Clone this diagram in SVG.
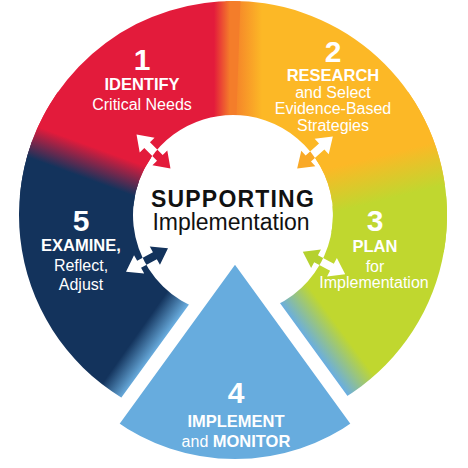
<svg xmlns="http://www.w3.org/2000/svg" width="468" height="468" viewBox="0 0 468 468">
<style>
.t{font-family:"Liberation Sans",Arial,Helvetica,sans-serif;fill:#fff;text-anchor:middle}
.num{font-size:30px;font-weight:bold}
.b{font-size:16.5px;font-weight:bold}
.r{font-size:16px}
.c{font-family:"Liberation Sans",Arial,Helvetica,sans-serif;fill:#111;text-anchor:middle}
</style>
<defs>
<linearGradient id="gA" gradientUnits="userSpaceOnUse" x1="166.8" y1="335.4" x2="146.4" y2="321"><stop offset="0" stop-color="#6aaee0"/><stop offset="1" stop-color="#13335c"/></linearGradient>
<linearGradient id="gB" gradientUnits="userSpaceOnUse" x1="214" y1="0" x2="230" y2="0"><stop offset="0" stop-color="#e31b3b"/><stop offset="1" stop-color="#f47d2a"/></linearGradient>
<linearGradient id="gC" gradientUnits="userSpaceOnUse" x1="80" y1="176.3" x2="91" y2="146.3"><stop offset="0" stop-color="#13335c"/><stop offset="1" stop-color="#e31b3b"/></linearGradient>
<linearGradient id="gD" gradientUnits="userSpaceOnUse" x1="232" y1="0" x2="262" y2="0"><stop offset="0" stop-color="#f47d2a"/><stop offset="1" stop-color="#fcb826"/></linearGradient>
<linearGradient id="gE" gradientUnits="userSpaceOnUse" x1="380" y1="155.7" x2="390.6" y2="198.3"><stop offset="0" stop-color="#fcb826"/><stop offset="1" stop-color="#c0d72f"/></linearGradient>
<linearGradient id="gF" gradientUnits="userSpaceOnUse" x1="303.6" y1="335.3" x2="330.2" y2="315.7"><stop offset="0" stop-color="#6aaee0"/><stop offset="1" stop-color="#c0d72f"/></linearGradient>
<polygon id="arw" points="24,0 9,-10.5 9,-4 -9,-4 -9,-10.5 -24,0 -9,10.5 -9,4 9,4 9,10.5"/>
<clipPath id="innerClip"><circle cx="233" cy="215" r="100"/></clipPath>
</defs>

<g id="ring">
<path fill="url(#gD)" d="M225.53,1.13 A214,214 0 0 1 444.92,185.21 L332.03,201.08 A100,100 0 0 0 229.51,115.06 Z"/>
<path fill="url(#gB)" d="M26.30,159.62 A214,214 0 0 1 240.47,1.13 L236.49,115.06 A100,100 0 0 0 136.41,189.12 Z"/>
<path fill="url(#gA)" d="M214.34,428.19 A214,214 0 0 1 31.90,141.81 L139.03,180.80 A100,100 0 0 0 224.28,314.62 Z"/>
<path fill="url(#gF)" d="M446.19,196.34 A214,214 0 0 1 240.47,428.87 L236.49,314.94 A100,100 0 0 0 332.62,206.28 Z"/>
<path fill="url(#gE)" d="M408.31,92.25 A214,214 0 0 1 443.75,252.16 L331.48,232.36 A100,100 0 0 0 314.92,157.64 Z"/>
<path fill="url(#gC)" d="M19.81,196.34 A214,214 0 0 1 57.69,92.25 L151.08,157.64 A100,100 0 0 0 133.38,206.28 Z"/>
</g>

<g id="node-4">
<path fill="#67acde" stroke="#fff" stroke-width="14" stroke-linejoin="round" d="M235,253 L109.8,425.3 A213,213 0 0 0 360.2,425.3 Z"/>
<text class="t num" x="236" y="403">4</text>
<text class="t b" x="236" y="427">IMPLEMENT</text>
<text class="t r" x="236" y="447">and <tspan font-weight="bold" font-size="16.5">MONITOR</tspan></text>
</g>

<g id="center">
<text class="c" x="233" y="206.5" font-size="23" font-weight="bold" letter-spacing="1.2">SUPPORTING</text>
<text class="c" x="231" y="230" font-size="23">Implementation</text>
</g>

<g id="connectors">
<g fill="#fff">
<use href="#arw" transform="translate(153.5,151.5) rotate(225)"/>
<use href="#arw" transform="translate(315,152.5) rotate(-42)"/>
<use href="#arw" transform="translate(324,263) rotate(28)"/>
<use href="#arw" transform="translate(147,260) rotate(151)"/>
</g>
<g clip-path="url(#innerClip)">
<use href="#arw" fill="#e31b3b" transform="translate(153.5,151.5) rotate(225)"/>
<use href="#arw" fill="#f9a928" transform="translate(315,152.5) rotate(-42)"/>
<use href="#arw" fill="#b5d12e" transform="translate(324,263) rotate(28)"/>
<use href="#arw" fill="#13335c" transform="translate(147,260) rotate(151)"/>
</g>
</g>

<g id="node-1">
<text class="t num" x="142" y="70">1</text>
<text class="t b" x="142" y="89.5">IDENTIFY</text>
<text class="t r" x="142" y="109.5">Critical Needs</text>
</g>

<g id="node-2">
<text class="t num" x="333" y="62">2</text>
<text class="t b" x="333" y="80.5">RESEARCH</text>
<text class="t r" x="333" y="97.5">and Select</text>
<text class="t r" x="333" y="114" font-size="15.5">Evidence-Based</text>
<text class="t r" x="333" y="130.5">Strategies</text>
</g>

<g id="node-3">
<text class="t num" x="375" y="231">3</text>
<text class="t b" x="375" y="252">PLAN</text>
<text class="t r" x="375" y="272">for</text>
<text class="t r" x="374" y="288" font-size="15">Implementation</text>
</g>

<g id="node-5">
<text class="t num" x="81" y="231">5</text>
<text class="t b" x="81" y="251">EXAMINE,</text>
<text class="t r" x="81" y="271">Reflect,</text>
<text class="t r" x="81" y="290">Adjust</text>
</g>
</svg>
